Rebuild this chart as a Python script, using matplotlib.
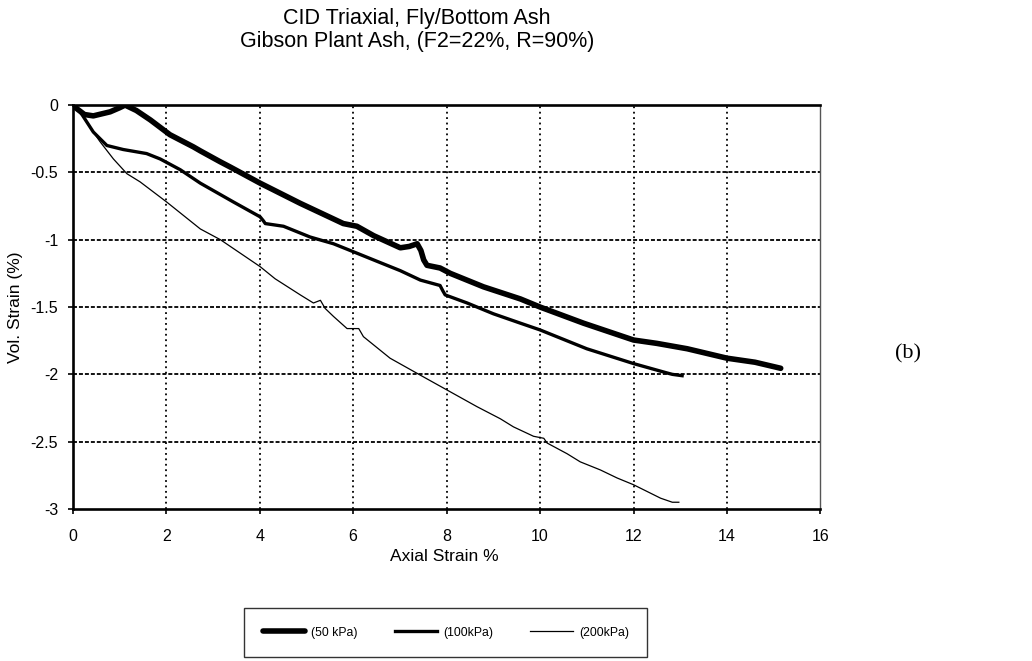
import matplotlib
matplotlib.use("Agg")
import matplotlib.pyplot as plt

plt.rcParams["font.family"] = ["Liberation Sans", "DejaVu Sans"]
plt.rcParams["axes.unicode_minus"] = False

# Axial strain (%) and volumetric strain (%) for each confining pressure
strain_50 = [0, 0.1, 0.25, 0.44, 0.8, 1.0, 1.12, 1.36, 1.66, 2.08, 2.58, 2.73, 3.15, 3.37,
             4.01, 4.87, 5.79, 6.08, 6.44, 7.01, 7.2, 7.37, 7.45, 7.51, 7.58, 7.86, 8.08,
             8.79, 9.58, 10.0, 10.93, 12.0, 12.5, 13.15, 14.0, 14.6, 15.15]
vol_50 = [0, -0.03, -0.07, -0.08, -0.05, -0.02, 0.0, -0.04, -0.11, -0.22, -0.31, -0.34,
          -0.42, -0.46, -0.58, -0.73, -0.88, -0.90, -0.97, -1.06, -1.05, -1.03, -1.08,
          -1.15, -1.19, -1.21, -1.25, -1.35, -1.44, -1.50, -1.62, -1.745, -1.77, -1.81,
          -1.88, -1.91, -1.955]

strain_100 = [0, 0.16, 0.44, 0.73, 1.08, 1.58, 1.87, 2.3, 2.73, 3.44, 4.01, 4.08, 4.12,
              4.51, 5.08, 5.58, 6.01, 6.58, 7.01, 7.44, 7.86, 7.92, 7.97, 8.44, 9.0, 9.58,
              10.0, 11.0, 12.0, 12.72, 12.83, 13.04]
vol_100 = [0, -0.05, -0.2, -0.30, -0.33, -0.36, -0.40, -0.48, -0.58, -0.72, -0.83, -0.86,
           -0.88, -0.90, -0.98, -1.03, -1.09, -1.17, -1.23, -1.30, -1.34, -1.38, -1.41,
           -1.47, -1.55, -1.62, -1.67, -1.81, -1.92, -1.99, -2.0, -2.01]

strain_200 = [0, 0.16, 0.44, 0.58, 0.87, 1.16, 1.44, 2.01, 2.73, 3.16, 4.01, 4.33, 4.87,
              5.15, 5.3, 5.4, 5.58, 5.87, 6.12, 6.22, 6.79, 7.51, 8.08, 8.65, 9.15, 9.43,
              9.86, 10.08, 10.15, 10.58, 10.86, 11.29, 11.65, 12.0, 12.29, 12.58, 12.83,
              12.97]
vol_200 = [0, -0.05, -0.2, -0.27, -0.40, -0.51, -0.57, -0.72, -0.92, -1.0, -1.20, -1.29,
           -1.41, -1.47, -1.45, -1.51, -1.57, -1.66, -1.66, -1.72, -1.88, -2.02, -2.13,
           -2.24, -2.33, -2.39, -2.46, -2.475, -2.51, -2.59, -2.65, -2.71, -2.77, -2.82,
           -2.87, -2.92, -2.95, -2.95]

series_labels = ["(50 kPa)", "(100kPa)", "(200kPa)"]
x_ticks = [0, 2, 4, 6, 8, 10, 12, 14, 16]
y_ticks = [0, -0.5, -1, -1.5, -2, -2.5, -3]
y_tick_labels = ["0", "-0.5", "-1", "-1.5", "-2", "-2.5", "-3"]

fig = plt.figure(figsize=(10.32, 6.61), dpi=100)
ax = fig.add_axes([0.0705, 0.230, 0.7245, 0.611])

ax.plot(strain_50, vol_50, color="black", lw=4.0, solid_capstyle="round",
        solid_joinstyle="round", label=series_labels[0], zorder=3)
ax.plot(strain_100, vol_100, color="black", lw=2.4, solid_joinstyle="round",
        label=series_labels[1], zorder=3)
ax.plot(strain_200, vol_200, color="black", lw=0.9, label=series_labels[2], zorder=3)

ax.set_xlim(0, 16)
ax.set_ylim(-3, 0)
ax.set_xticks(x_ticks)
ax.set_yticks(y_ticks)
ax.set_yticklabels(y_tick_labels)
ax.tick_params(axis="both", labelsize=11.5, length=3.5, width=1.2, color="black",
               direction="out")
ax.tick_params(axis="x", pad=11)
ax.tick_params(axis="y", pad=7)

# dotted verticals, short-dashed horizontals
for xv in x_ticks[1:-1]:
    ax.axvline(xv, color="black", lw=1.3, ls=(0, (1, 2.0)), zorder=1)
for yv in y_ticks[1:-1]:
    ax.axhline(yv, color="black", lw=1.3, ls=(0, (2.2, 1.1)), zorder=1)

for side in ["left", "bottom", "top"]:
    ax.spines[side].set_linewidth(1.9)
    ax.spines[side].set_color("black")
ax.spines["right"].set_linewidth(1.0)
ax.spines["right"].set_color("#555555")

ax.set_xlabel("Axial Strain %", fontsize=12.5)
ax.xaxis.set_label_coords(0.497, -0.098)
ax.set_ylabel("Vol. Strain (%)", fontsize=12.5)
ax.yaxis.set_label_coords(-0.066, 0.50)

fig.text(0.404, 0.972, "CID Triaxial, Fly/Bottom Ash", ha="center", va="center",
         fontsize=15.5)
fig.text(0.404, 0.937, "Gibson Plant Ash, (F2=22%, R=90%)", ha="center", va="center",
         fontsize=15.5)

fig.text(0.880, 0.464, "(b)", ha="center", va="center", fontsize=16,
         family=["Liberation Serif", "DejaVu Serif"])

leg = fig.legend(loc="center", bbox_to_anchor=(0.432, 0.043), ncol=3, fontsize=8.8,
                 frameon=True, fancybox=False, handlelength=3.5, columnspacing=3.0,
                 handletextpad=0.5, borderpad=1.5, borderaxespad=0, edgecolor="black")
leg.get_frame().set_linewidth(1.0)

fig.savefig("out.png", dpi=100)
